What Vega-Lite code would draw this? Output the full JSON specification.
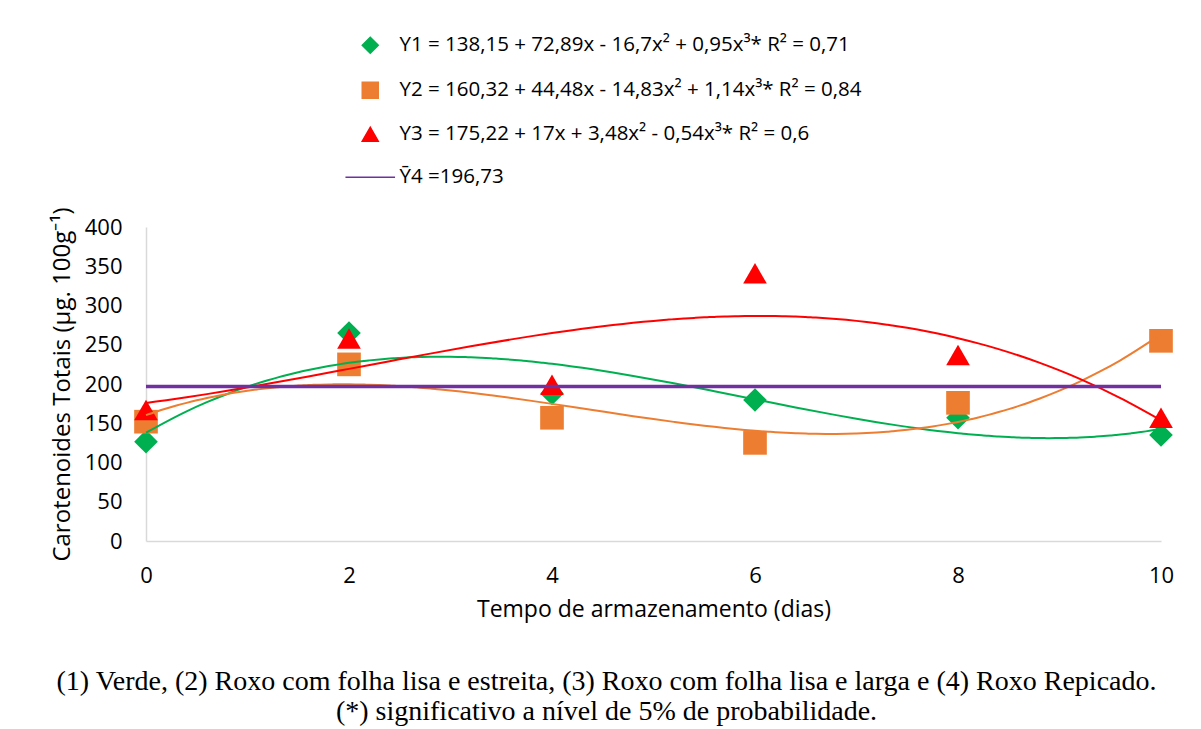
{
  "$schema": "https://vega.github.io/schema/vega-lite/v6.json",
  "width": 1015,
  "height": 314,
  "autosize": "none",
  "padding": {"left": 146, "top": 227, "right": 40, "bottom": 188},
  "background": "white",
  "config": {
    "view": {"stroke": null},
    "font": "Open Sans",
    "axis": {
      "domainColor": "#d9d9d9",
      "domainWidth": 1.5,
      "ticks": false,
      "grid": false,
      "labelFont": "Open Sans",
      "labelFontSize": 22,
      "labelColor": "#000000",
      "labelFlush": false,
      "titleFont": "Open Sans",
      "titleFontWeight": "normal",
      "titleColor": "#000000"
    },
    "legend": {
      "labelFont": "Open Sans",
      "labelFontSize": 20.5,
      "labelColor": "#000000",
      "labelLimit": 900
    }
  },
  "title": {
    "text": [
      "(1) Verde, (2) Roxo com folha lisa e estreita, (3) Roxo com folha lisa e larga e (4) Roxo Repicado.",
      "(*) significativo a nível de 5% de probabilidade."
    ],
    "orient": "bottom",
    "anchor": "middle",
    "frame": "group",
    "font": "Liberation Serif",
    "fontSize": 28,
    "fontWeight": "normal",
    "color": "#000000",
    "offset": 47,
    "dx": -47,
    "lineHeight": 30
  },
  "datasets": {
    "observado": [
      {"dia": 0, "valor": 126.5, "series": "Y1"},
      {"dia": 2, "valor": 265, "series": "Y1"},
      {"dia": 4, "valor": 188, "series": "Y1"},
      {"dia": 6, "valor": 179.6, "series": "Y1"},
      {"dia": 8, "valor": 157, "series": "Y1"},
      {"dia": 10, "valor": 135, "series": "Y1"},
      {"dia": 0, "valor": 152, "series": "Y2"},
      {"dia": 2, "valor": 225, "series": "Y2"},
      {"dia": 4, "valor": 157, "series": "Y2"},
      {"dia": 6, "valor": 125, "series": "Y2"},
      {"dia": 8, "valor": 176, "series": "Y2"},
      {"dia": 10, "valor": 255, "series": "Y2"},
      {"dia": 0, "valor": 167, "series": "Y3"},
      {"dia": 2, "valor": 258, "series": "Y3"},
      {"dia": 4, "valor": 199, "series": "Y3"},
      {"dia": 6, "valor": 341, "series": "Y3"},
      {"dia": 8, "valor": 237, "series": "Y3"},
      {"dia": 10, "valor": 157, "series": "Y3"}
    ],
    "media": [
      {"dia": 0, "valor": 196.73, "series": "Y4"},
      {"dia": 10, "valor": 196.73, "series": "Y4"}
    ]
  },
  "encoding": {
    "x": {
      "field": "dia",
      "type": "quantitative",
      "scale": {"domain": [0, 10], "nice": false},
      "axis": {"values": [0, 2, 4, 6, 8, 10], "title": "Tempo de armazenamento (dias)", "titleFontSize": 23, "labelPadding": 24, "titlePadding": 12}
    },
    "y": {
      "field": "valor",
      "type": "quantitative",
      "scale": {"domain": [0, 400], "nice": false},
      "axis": {"values": [0, 50, 100, 150, 200, 250, 300, 350, 400], "title": "Carotenoides Totais (µg. 100g⁻¹)", "titleFontSize": 24, "labelPadding": 24, "titlePadding": 10}
    }
  },
  "layer": [
    {
      "data": {"name": "observado"},
      "mark": {"type": "point", "filled": true, "size": 560, "opacity": 1},
      "encoding": {
        "color": {
          "field": "series",
          "type": "nominal",
          "scale": {"domain": ["Y1", "Y2", "Y3", "Y4"], "range": ["#00B050", "#ED7D31", "#FF0000", "#7030A0"]},
          "legend": {
            "title": null,
            "orient": "none",
            "legendX": 214,
            "legendY": -192,
            "symbolSize": 256,
            "rowPadding": 22,
            "labelOffset": 19,
            "labelExpr": "datum.value === 'Y1' ? 'Y1 = 138,15 + 72,89x - 16,7x² + 0,95x³* R² = 0,71' : datum.value === 'Y2' ? 'Y2 = 160,32 + 44,48x - 14,83x² + 1,14x³* R² = 0,84' : datum.value === 'Y3' ? 'Y3 = 175,22 + 17x + 3,48x² - 0,54x³* R² = 0,6' : 'Ȳ4 =196,73'",
            "encode": {
              "symbols": {
                "update": {
                  "fill": {"signal": "scale('color', datum.value)"},
                  "stroke": {"signal": "scale('color', datum.value)"},
                  "strokeWidth": {"signal": "datum.value === 'Y4' ? 3 : 0"},
                  "opacity": {"value": 1}
                }
              }
            }
          }
        },
        "shape": {
          "field": "series",
          "type": "nominal",
          "scale": {"domain": ["Y1", "Y2", "Y3", "Y4"], "range": ["diamond", "square", "triangle-up", "M-3.1,0L3.1,0"]},
          "legend": {
            "title": null,
            "orient": "none",
            "legendX": 214,
            "legendY": -192,
            "symbolSize": 256,
            "rowPadding": 22,
            "labelOffset": 19,
            "labelExpr": "datum.value === 'Y1' ? 'Y1 = 138,15 + 72,89x - 16,7x² + 0,95x³* R² = 0,71' : datum.value === 'Y2' ? 'Y2 = 160,32 + 44,48x - 14,83x² + 1,14x³* R² = 0,84' : datum.value === 'Y3' ? 'Y3 = 175,22 + 17x + 3,48x² - 0,54x³* R² = 0,6' : 'Ȳ4 =196,73'",
            "encode": {
              "symbols": {
                "update": {
                  "fill": {"signal": "scale('color', datum.value)"},
                  "stroke": {"signal": "scale('color', datum.value)"},
                  "strokeWidth": {"signal": "datum.value === 'Y4' ? 3 : 0"},
                  "opacity": {"value": 1}
                }
              }
            }
          }
        }
      }
    },
    {
      "data": {"name": "observado"},
      "transform": [
        {"regression": "valor", "on": "dia", "groupby": ["series"], "method": "poly", "order": 3, "extent": [0, 10]}
      ],
      "mark": {"type": "line", "strokeWidth": 2, "interpolate": "monotone"},
      "encoding": {
        "color": {"field": "series", "type": "nominal", "legend": null}
      }
    },
    {
      "data": {"name": "media"},
      "mark": {"type": "line", "strokeWidth": 3.5},
      "encoding": {
        "color": {"field": "series", "type": "nominal", "legend": null}
      }
    }
  ]
}
